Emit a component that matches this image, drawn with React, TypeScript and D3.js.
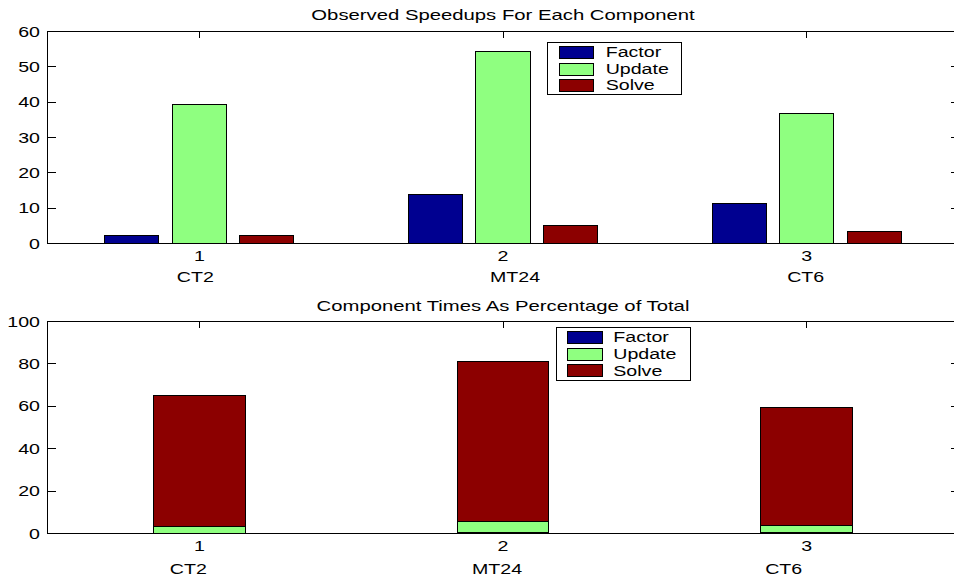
import React from "react";
import * as d3 from "d3";

const categories = ["1", "2", "3"];
const caseNames = ["CT2", "MT24", "CT6"];
const seriesNames = ["Factor", "Update", "Solve"];
const seriesColors = ["#000090", "#8FFF80", "#8C0000"];

// Observed speedups (top chart)
const speedFactor = [2.2, 13.9, 11.3];
const speedUpdate = [39.2, 54.4, 36.7];
const speedSolve = [2.2, 5.0, 3.4];

// Component times as percentage of total (bottom chart)
const pctFactor = [0.2, 0.5, 0.4];
const pctUpdate = [3.0, 5.3, 3.2];
const pctSolve = [62.1, 75.2, 56.0];

const topTicks = [0, 10, 20, 30, 40, 50, 60];
const bottomTicks = [0, 20, 40, 60, 80, 100];

const FONT = "'Liberation Sans', Arial, Helvetica, sans-serif";
const SX = 1.4;

function T({ x, y, anchor = "middle", size = 14, children }: any) {
  return (
    <text
      transform={`translate(${x},${y}) scale(${SX},1)`}
      textAnchor={anchor}
      fontSize={size}
      fontFamily={FONT}
      fill="#000"
    >
      {children}
    </text>
  );
}

function Axes({ y, ticks, title, titleY, labelOffsets, labelY }: any) {
  const x = d3.scaleLinear().domain([0.5, 3.5]).range([47.5, 958.5]);
  const [y0, y1] = y.range();
  const [xl, xr] = x.range();
  return (
    <g>
      {/* y ticks left and right */}
      {ticks.map((t: number) => (
        <g key={"yt" + t}>
          <line x1={xl} x2={xl + 8} y1={y(t)} y2={y(t)} stroke="#000" />
          <line x1={xr - 8} x2={xr} y1={y(t)} y2={y(t)} stroke="#000" />
          <T x={40} y={y(t) + 5} anchor="end">{String(t)}</T>
        </g>
      ))}
      {/* x ticks top and bottom */}
      {categories.map((c, i) => (
        <g key={"xt" + c}>
          <line x1={x(i + 1)} x2={x(i + 1)} y1={y1} y2={y1 + 6} stroke="#000" />
          <line x1={x(i + 1)} x2={x(i + 1)} y1={y0} y2={y0 - 6} stroke="#000" />
          <T x={x(i + 1)} y={y0 + 17.5}>{c}</T>
          <T x={x(i + 1) + labelOffsets[i]} y={labelY}>{caseNames[i]}</T>
        </g>
      ))}
      <T x={(xl + xr) / 2} y={titleY} size={14.5}>{title}</T>
    </g>
  );
}

function Legend({ x0, y0, w, h, swX, swW, rowYs, textX }: any) {
  return (
    <g>
      <rect x={x0} y={y0} width={w} height={h} fill="#fff" stroke="#000" />
      {seriesNames.map((s, i) => (
        <g key={s}>
          <rect x={swX} y={rowYs[i] - 6} width={swW} height={12} fill={seriesColors[i]} stroke="#000" />
          <T x={textX} y={rowYs[i] + 5} anchor="start">{s}</T>
        </g>
      ))}
    </g>
  );
}

export default function App() {
  const x = d3.scaleLinear().domain([0.5, 3.5]).range([47.5, 958.5]);
  const yTop = d3.scaleLinear().domain([0, 60]).range([243.5, 31.5]);
  const yBot = d3.scaleLinear().domain([0, 100]).range([533.5, 321.5]);
  const speeds = [speedFactor, speedUpdate, speedSolve];
  const pcts = [pctFactor, pctUpdate, pctSolve];
  const groupOffset = 0.2225;
  const barW = 0.178;
  const stackW = 0.302;
  const unit = x(1) - x(0);

  return (
    <svg
      width={954}
      height={579}
      style={{ position: "absolute", left: 0, top: 0, background: "#fff" }}
      shapeRendering="crispEdges"
    >
      <rect x={0} y={0} width={954} height={579} fill="#fff" />
      {/* Top chart */}
      <Axes
        y={yTop}
        ticks={topTicks}
        title="Observed Speedups For Each Component"
        titleY={20}
        labelOffsets={[-4, 12, -1]}
        labelY={282}
      />
      {speeds.map((vals, si) =>
        vals.map((v, ci) => {
          const cx = x(ci + 1) + (si - 1) * groupOffset * unit;
          return (
            <rect
              key={`s${si}-${ci}`}
              x={cx - (barW * unit) / 2}
              y={yTop(v)}
              width={barW * unit}
              height={yTop(0) - yTop(v)}
              fill={seriesColors[si]}
              stroke="#000"
            />
          );
        })
      )}
      <rect x={47.5} y={31.5} width={911} height={212} fill="none" stroke="#000" />
      <Legend x0={547.5} y0={42.5} w={134} h={52} swX={559.5} swW={34} rowYs={[52.3, 69.2, 85.2]} textX={605.7} />

      {/* Bottom chart */}
      <Axes
        y={yBot}
        ticks={bottomTicks}
        title="Component Times As Percentage of Total"
        titleY={310.5}
        labelOffsets={[-11, -6, -23]}
        labelY={573.5}
      />
      {categories.map((c, ci) => {
        let acc = 0;
        return pcts.map((vals, si) => {
          const lo = acc;
          acc += vals[ci];
          return (
            <rect
              key={`p${si}-${ci}`}
              x={x(ci + 1) - (stackW * unit) / 2}
              y={yBot(acc)}
              width={stackW * unit}
              height={yBot(lo) - yBot(acc)}
              fill={seriesColors[si]}
              stroke="#000"
            />
          );
        });
      })}
      <rect x={47.5} y={321.5} width={911} height={212} fill="none" stroke="#000" />
      <Legend x0={556.5} y0={327.5} w={134} h={52.5} swX={567.5} swW={35} rowYs={[337.2, 354.2, 370.7]} textX={613.3} />
    </svg>
  );
}
